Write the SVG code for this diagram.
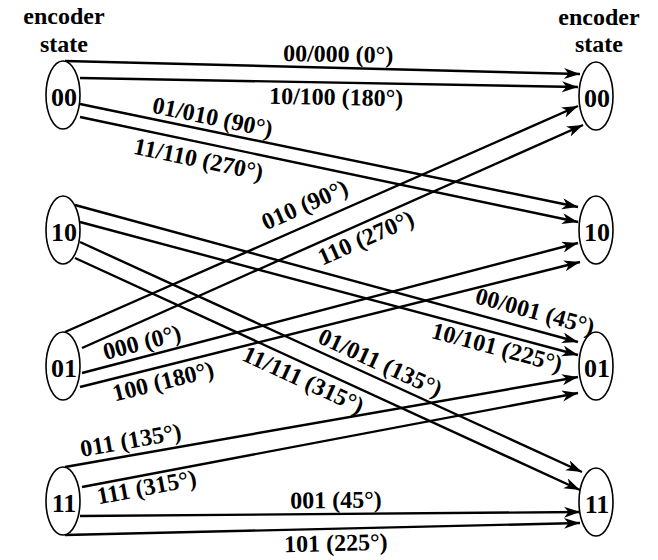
<svg xmlns="http://www.w3.org/2000/svg" width="658" height="560" viewBox="0 0 658 560">
<style>
text{font-family:"Liberation Serif","Times New Roman",serif;font-weight:bold;font-size:24px;fill:#000}
.n ellipse{fill:#fff;stroke:#000;stroke-width:1.6}
.n text{text-anchor:middle;font-size:26px}
.e path{fill:none;stroke:#000;stroke-width:2.4;marker-end:url(#ah)}
.e text{text-anchor:middle}
.hdr{text-anchor:middle}
</style>
<defs>
<marker id="ah" markerUnits="userSpaceOnUse" markerWidth="17" markerHeight="12" refX="16" refY="5.5" orient="auto">
<path d="M0,0 L16,5.5 L0,11 L4.5,5.5 Z" fill="#000"/>
</marker>
</defs>
<rect width="658" height="560" fill="#fff"/>
<g id="headers">
<text class="hdr" x="64" y="24">encoder</text>
<text class="hdr" x="64" y="52">state</text>
<text class="hdr" x="599" y="25">encoder</text>
<text class="hdr" x="599" y="52">state</text>
</g>
<g id="connectors" class="e">
<path d="M65,61 L580,74"/>
<path d="M80,78 L578,87"/>
<path d="M80,104 L578,207"/>
<path d="M80,117 L578,222"/>
<path d="M75,205 L578,342"/>
<path d="M80,222 L578,355"/>
<path d="M80,242 L582,472"/>
<path d="M75,258 L580,490"/>
<path d="M65,332 L578,106"/>
<path d="M82,348 L583,125"/>
<path d="M82,373 L578,243"/>
<path d="M80,387 L580,262"/>
<path d="M65,467 L578,377"/>
<path d="M82,487 L578,393"/>
<path d="M80,516 L580,512"/>
<path d="M65,535 L580,523"/>
<text transform="translate(338,62) rotate(1)">00/000 (0°)</text>
<text transform="translate(336,105) rotate(1)">10/100 (180°)</text>
<text transform="translate(211,125) rotate(11.7)">01/010 (90°)</text>
<text transform="translate(197,167) rotate(11.9)">11/110 (270°)</text>
<text transform="translate(533,319) rotate(15.2)">00/001 (45°)</text>
<text transform="translate(495,355) rotate(15)">10/101 (225°)</text>
<text transform="translate(377,370) rotate(24.6)">01/011 (135°)</text>
<text transform="translate(300,387) rotate(24.7)">11/111 (315°)</text>
<text transform="translate(308,212) rotate(-23.8)">010 (90°)</text>
<text transform="translate(369,245) rotate(-24)">110 (270°)</text>
<text transform="translate(144,350) rotate(-14.7)">000 (0°)</text>
<text transform="translate(165,389) rotate(-14)">100 (180°)</text>
<text transform="translate(132,448) rotate(-10)">011 (135°)</text>
<text transform="translate(148,495) rotate(-10.7)">111 (315°)</text>
<text transform="translate(336,508) rotate(-0.5)">001 (45°)</text>
<text transform="translate(336,551) rotate(-1.3)">101 (225°)</text>
</g>
<g id="left-00" class="n"><ellipse cx="63" cy="95" rx="17" ry="34"/><text x="64" y="106">00</text></g>
<g id="left-10" class="n"><ellipse cx="63" cy="230" rx="17" ry="34"/><text x="64" y="241">10</text></g>
<g id="left-01" class="n"><ellipse cx="63" cy="366" rx="17" ry="34"/><text x="64" y="377">01</text></g>
<g id="left-11" class="n"><ellipse cx="63" cy="501" rx="17" ry="34"/><text x="64" y="512">11</text></g>
<g id="right-00" class="n"><ellipse cx="596" cy="96" rx="17" ry="34"/><text x="597" y="107">00</text></g>
<g id="right-10" class="n"><ellipse cx="596" cy="230" rx="17" ry="34"/><text x="597" y="241">10</text></g>
<g id="right-01" class="n"><ellipse cx="596" cy="366" rx="17" ry="34"/><text x="597" y="377">01</text></g>
<g id="right-11" class="n"><ellipse cx="596" cy="502" rx="17" ry="34"/><text x="597" y="513">11</text></g>
</svg>
